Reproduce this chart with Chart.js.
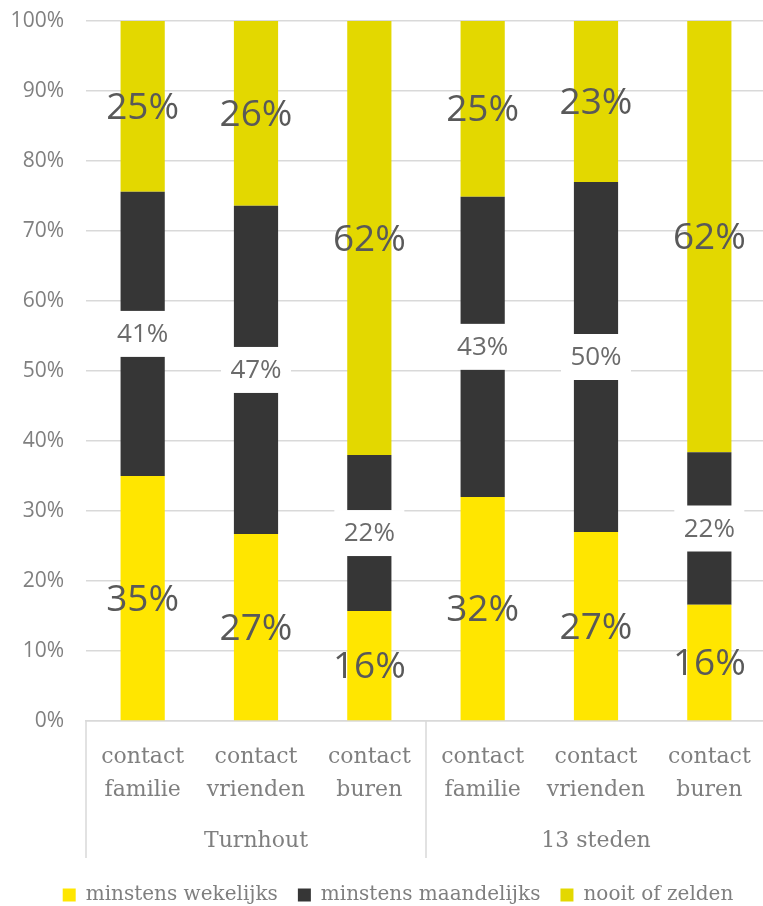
<!DOCTYPE html>
<html>
<head>
<meta charset="utf-8">
<script src="https://cdn.jsdelivr.net/npm/chart.js@4/dist/chart.umd.min.js"></script>
<style>
html,body{margin:0;padding:0;background:#fff;overflow:hidden;}
#wrap{position:relative;width:766px;height:915px;}
</style>
</head>
<body>
<div id="wrap"><canvas id="c"></canvas></div>
<script>
const categories = [['contact','familie'],['contact','vrienden'],['contact','buren'],['contact','familie'],['contact','vrienden'],['contact','buren']];
const groups = ['Turnhout','13 steden'];
const groupSize = 3;
const seriesNames = ['minstens wekelijks','minstens maandelijks','nooit of zelden'];
const wekelijks   = [35.0, 26.7, 15.7, 32.0, 27.0, 16.6];
const maandelijks = [40.6, 46.9, 22.3, 42.9, 50.0, 21.8];
const nooit       = [24.4, 26.4, 62.0, 25.1, 23.0, 61.6];
const wekelijksLbl   = [35, 27, 16, 32, 27, 16];
const maandelijksLbl = [41, 47, 22, 43, 50, 22];
const nooitLbl       = [25, 26, 62, 25, 23, 62];
const yTicks = [0,10,20,30,40,50,60,70,80,90,100];

const colors = ['#FFE600','#363636','#E3D800'];
const seriesLabels = [wekelijksLbl, maandelijksLbl, nooitLbl];
const SANS = '"Open Sans", sans-serif';
const SERIF = '"DejaVu Serif", serif';
const GRID = '#D9D9D9';

const segLabels = {
  id:'segLabels',
  afterDatasetsDraw(chart){
    const ctx = chart.ctx;
    ctx.save();
    ctx.textAlign='center';
    ctx.textBaseline='middle';
    chart.data.datasets.forEach((ds,i)=>{
      const meta = chart.getDatasetMeta(i);
      meta.data.forEach((bar,j)=>{
        const txt = seriesLabels[i][j] + '%';
        const cy = (bar.y + bar.base)/2;
        if(i===1){
          ctx.fillStyle='#fff';
          ctx.fillRect(bar.x-35, cy-23, 70, 46);
          ctx.font = '26px ' + SANS;
          ctx.fillStyle='#6b6b6b';
          ctx.fillText(txt, bar.x, cy+1);
        } else {
          ctx.font = '37px ' + SANS;
          ctx.fillStyle='#595959';
          ctx.fillText(txt, bar.x, cy+2);
        }
      });
    });
    ctx.restore();
  }
};

const groupAxis = {
  id:'groupAxis',
  afterLayout(chart){
    if(chart.legend){ chart.legend.left += 15; chart.legend.right += 15; }
  },
  afterDraw(chart){
    const ctx = chart.ctx;
    const xs = chart.scales.x;
    const ca = chart.chartArea;
    const top = xs.top, bottom = xs.top + 137;
    ctx.save();
    ctx.strokeStyle = GRID;
    ctx.lineWidth = 1.5;
    const bounds = [ca.left];
    for(let g=1; g<groups.length; g++){
      bounds.push((xs.getPixelForValue(g*groupSize-1)+xs.getPixelForValue(g*groupSize))/2);
    }
    bounds.push(ca.right);
    bounds.forEach(b=>{
      ctx.beginPath(); ctx.moveTo(b, top); ctx.lineTo(b, bottom); ctx.stroke();
    });
    ctx.fillStyle='#7f7f7f';
    ctx.font='22px ' + SERIF;
    ctx.textAlign='center';
    ctx.textBaseline='middle';
    groups.forEach((g,k)=>{
      const x = (xs.getPixelForValue(k*groupSize)+xs.getPixelForValue(k*groupSize+groupSize-1))/2;
      ctx.fillText(g, x, top + 120);
    });
    ctx.restore();
  }
};

new Chart(document.getElementById('c'), {
  type:'bar',
  data:{
    labels: categories,
    datasets: [
      {label: seriesNames[0], data: wekelijks, backgroundColor: colors[0]},
      {label: seriesNames[1], data: maandelijks, backgroundColor: colors[1]},
      {label: seriesNames[2], data: nooit, backgroundColor: colors[2]}
    ].map(d=>Object.assign(d,{barPercentage:0.39, categoryPercentage:1, borderWidth:0}))
  },
  options:{
    responsive:true,
    maintainAspectRatio:false,
    animation:false,
    layout:{padding:{top:21,left:0,right:0,bottom:0}},
    plugins:{
      tooltip:{enabled:false},
      legend:{
        position:'bottom',
        labels:{
          boxWidth:13, boxHeight:13, padding:20,
          color:'#7f7f7f',
          font:{family:SERIF, size:20}
        }
      }
    },
    scales:{
      x:{
        stacked:true,
        grid:{display:false, drawTicks:false},
        border:{color:GRID, width:1.5},
        ticks:{color:'#7f7f7f', font:{family:SERIF, size:22, lineHeight:1.5}, padding:20, maxRotation:0, autoSkip:false},
        afterFit(s){ s.height = 144; s.paddingLeft = 0; s.paddingRight = 0; }
      },
      y:{
        stacked:true,
        min:0, max:100,
        afterBuildTicks(s){ s.ticks = yTicks.map(v=>({value:v})); },
        grid:{color:GRID, lineWidth:1.5, drawTicks:false},
        border:{display:false},
        ticks:{color:'#808080', font:{family:SANS, size:21}, padding:22, callback:v=>v+'%'},
        afterFit(s){ s.width = 86; s.paddingTop = 0; s.paddingBottom = 0; }
      }
    }
  },
  plugins:[segLabels, groupAxis]
});
</script>
</body>
</html>
